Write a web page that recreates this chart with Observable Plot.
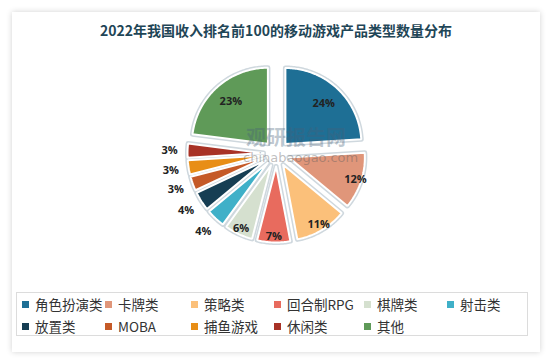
<!DOCTYPE html>
<html><head><meta charset="utf-8">
<script src="https://cdn.jsdelivr.net/npm/d3@7"></script>
<script src="https://cdn.jsdelivr.net/npm/@observablehq/plot@0.6"></script>
<style>
body{margin:0;background:#fff;font-family:"Noto Sans CJK SC","Noto Sans",sans-serif;width:552px;height:363px;overflow:hidden;position:relative;}
#card{position:absolute;left:12px;top:12px;width:528px;height:340px;background:#fff;box-shadow:0 0 6px rgba(0,0,0,0.18);}
#title{position:absolute;left:0;top:20px;width:552px;text-align:center;font-size:14px;font-weight:bold;color:#1f4657;line-height:20px;}
#chart{position:absolute;left:0;top:40px;}
#wm1{position:absolute;left:246px;top:127px;font-size:20px;line-height:20px;font-weight:bold;color:rgba(70,95,120,0.35);}
#wm2{position:absolute;left:243px;top:151px;font-size:13px;line-height:13px;color:rgba(90,90,90,0.4);font-family:"DejaVu Sans",sans-serif;}
#legend{position:absolute;left:16px;top:292px;width:512px;height:44px;border:1px solid #dcdcdc;display:grid;grid-template-columns:83px 86px 83px 90px 83px auto;grid-template-rows:22px 22px;padding-left:5px;box-sizing:border-box;}
.item{display:flex;align-items:center;font-size:13.5px;color:#333;white-space:nowrap;}
.sw{width:7px;height:7px;margin-right:6px;flex:none;}
</style></head>
<body>
<div id="card"></div>
<div id="title">2022年我国收入排名前100的移动游戏产品类型数量分布</div>
<div id="chart"></div>
<div id="wm1">观研报告网</div>
<div id="wm2">chinabaogao.com</div>
<div id="legend"></div>
<script>
const categories = ["角色扮演类","卡牌类","策略类","回合制RPG","棋牌类","射击类","放置类","MOBA","捕鱼游戏","休闲类","其他"];
const values = [24,12,11,7,6,4,4,3,3,3,23];
const colors = ["#1e6f95","#e0967a","#fbc07a","#e86b5e","#d5e0cf","#3fb0c8","#163e53","#c55a28","#e88e16","#a83226","#5f9a58"];

const R = 76, OFF = 13;
const total = d3.sum(values);
let acc = 0;
const slices = values.map((v,i)=>{
  const a0 = acc/total*2*Math.PI; acc += v; const a1 = acc/total*2*Math.PI;
  return {cat:categories[i], v, color:colors[i], a0, a1, mid:(a0+a1)/2};
});
const pts = [];
for (const s of slices) {
  const ox = OFF*Math.sin(s.mid), oy = OFF*Math.cos(s.mid);
  pts.push({cat:s.cat,color:s.color,x:ox,y:oy});
  const n = Math.max(6, Math.ceil((s.a1-s.a0)*60));
  for (let k=0;k<=n;k++){
    const a = s.a0+(s.a1-s.a0)*k/n;
    pts.push({cat:s.cat,color:s.color,x:ox+R*Math.sin(a),y:oy+R*Math.cos(a)});
  }
  pts.push({cat:s.cat,color:s.color,x:ox,y:oy});
}
const labels = slices.map(s=>{
  const r = s.v>=20 ? 56 : s.v>=5 ? 70 : 94;
  const rr = OFF + r;
  return {text:s.v+"%", x:rr*Math.sin(s.mid), y:rr*Math.cos(s.mid)};
});

const plot = Plot.plot({
  width:552, height:250, margin:0,
  style:{fontFamily:"'Open Sans','Liberation Sans',sans-serif", background:"transparent"},
  x:{domain:[-276,276], axis:null},
  y:{domain:[-137,113], axis:null},
  marks:[
    Plot.line(pts,{x:"x",y:"y",z:"cat",stroke:"#cfd8de",strokeWidth:5,fill:"none"}),
    Plot.line(pts,{x:"x",y:"y",z:"cat",fill:"color",stroke:"white",strokeWidth:2,strokeLinejoin:"miter"}),
    Plot.text(labels,{x:"x",y:"y",text:"text",fontSize:11,fontWeight:"bold",fill:"#222"})
  ]
});
document.getElementById("chart").appendChild(plot);

const lg = document.getElementById("legend");
categories.forEach((c,i)=>{
  const d = document.createElement("div"); d.className="item";
  const sw = document.createElement("span"); sw.className="sw"; sw.style.background = colors[i];
  const t = document.createElement("span"); t.textContent = c;
  d.appendChild(sw); d.appendChild(t); lg.appendChild(d);
});
</script>
</body></html>
